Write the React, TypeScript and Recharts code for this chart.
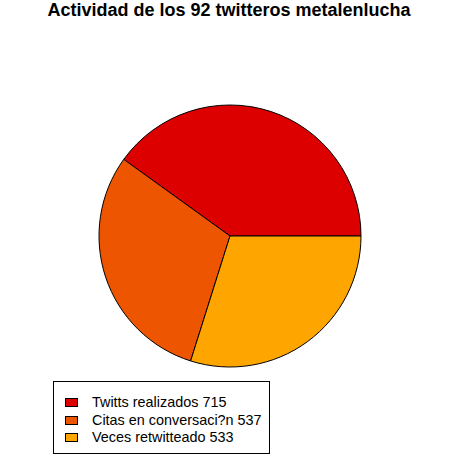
import { PieChart, Pie, Cell, Legend } from 'recharts';

const categories = ['Twitts realizados', 'Citas en conversaci?n', 'Veces retwitteado'];
const counts = [715, 537, 533];
const sliceColors = ['#DD0000', '#EE5500', '#FFA500'];
const title = 'Actividad de los 92 twitteros metalenlucha';

const data = categories.map((name, i) => ({ name, value: counts[i] }));

const LegendBox = () => (
  <div style={{
    width: 215, height: 59, border: '1px solid #000', background: '#fff',
    fontFamily: '"Liberation Sans", Arial, sans-serif', fontSize: 14.4, color: '#000',
    paddingTop: 12, boxSizing: 'content-box',
  }}>
    {data.map((d, i) => (
      <div key={d.name} style={{ display: 'flex', alignItems: 'center', height: 17.5, lineHeight: '17.5px' }}>
        <span style={{
          display: 'inline-block', width: 11, height: 7, marginLeft: 11, marginRight: 14,
          background: sliceColors[i], border: '1px solid #000', boxSizing: 'content-box',
        }} />
        <span>{d.name} {d.value}</span>
      </div>
    ))}
  </div>
);

export default function App() {
  return (
    <div style={{ position: 'absolute', left: 0, top: 0, width: 460, height: 473, background: '#fff' }}>
      <div style={{
        position: 'absolute', left: 0, top: 0, width: 458, textAlign: 'center',
        fontFamily: '"Liberation Sans", Arial, sans-serif', fontWeight: 'bold',
        fontSize: 18, lineHeight: '20px', color: '#000',
      }}>
        {title}
      </div>
      <PieChart width={460} height={473} margin={{ top: 0, right: 0, bottom: 0, left: 0 }}>
        <Pie data={data} dataKey="value" nameKey="name" cx={230} cy={236}
          outerRadius={131} startAngle={0} endAngle={360}
          stroke="#000" strokeWidth={1} isAnimationActive={false} labelLine={false}>
          {data.map((d, i) => <Cell key={d.name} fill={sliceColors[i]} />)}
        </Pie>
        <Legend content={<LegendBox />}
          wrapperStyle={{ position: 'absolute', left: 53, top: 381, width: 'auto', bottom: 'auto' }} />
      </PieChart>
    </div>
  );
}
